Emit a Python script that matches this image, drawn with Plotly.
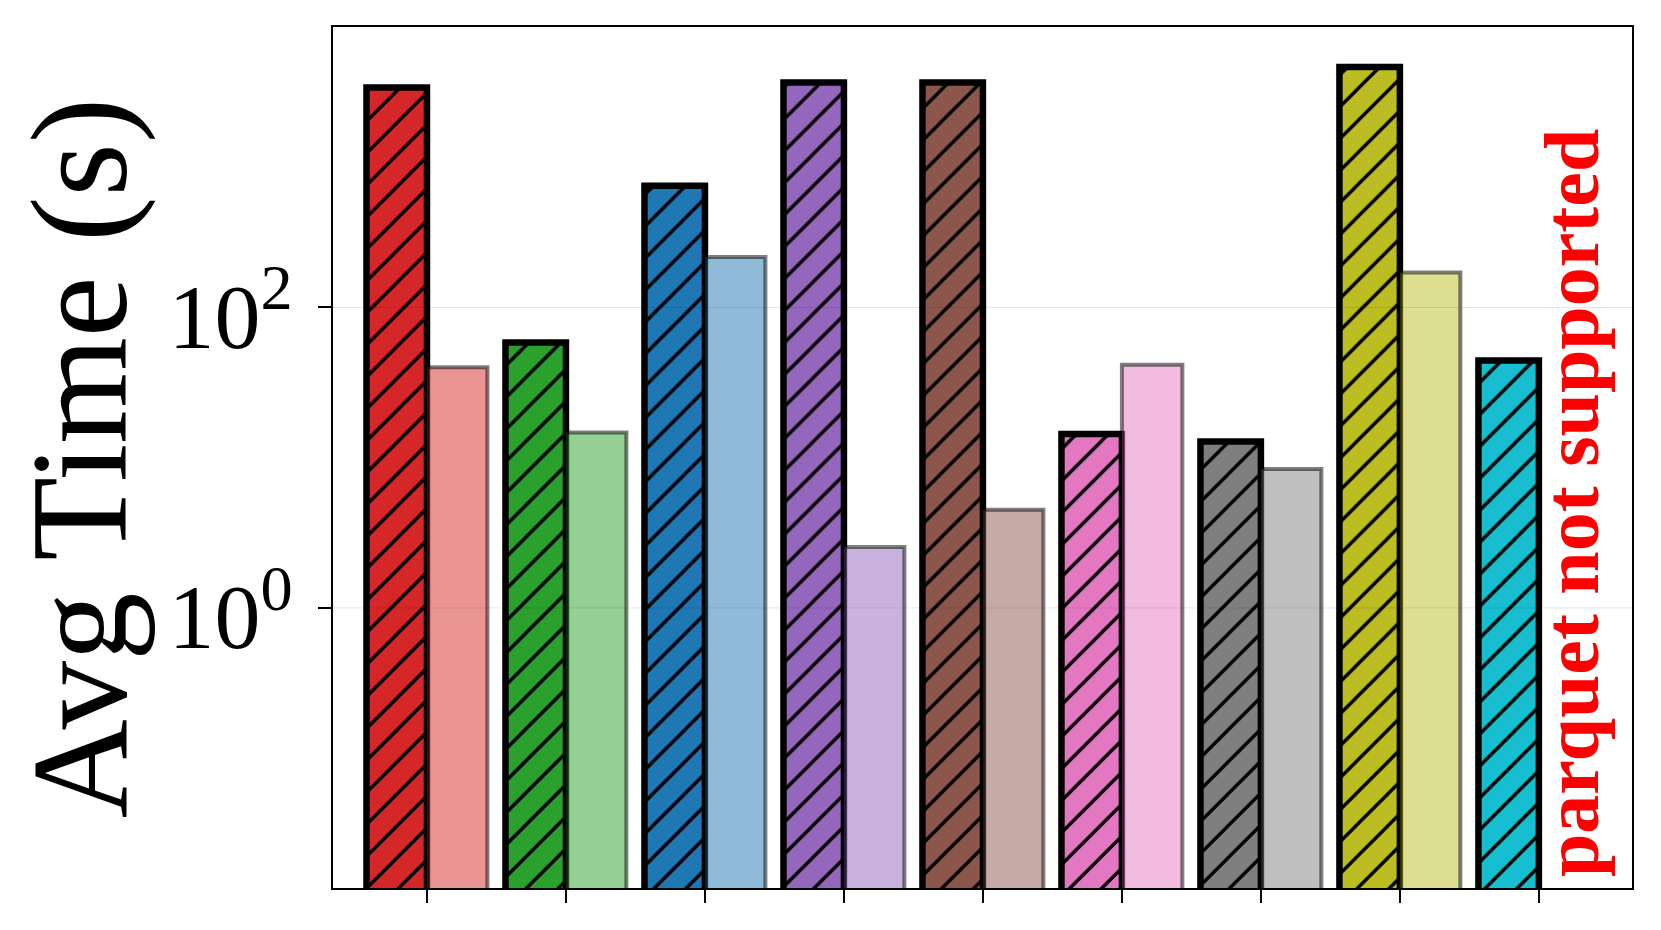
import plotly.graph_objects as go

# one group per system; hatched = csv run, light = parquet run
POSITIONS = [0, 1, 2, 3, 4, 5, 6, 7, 8]
CSV_TIMES = [2910, 58.4, 646, 3150, 3150, 14.4, 12.8, 3990, 44.4]
PARQUET_TIMES = [40, 14.7, 217, 2.55, 4.5, 41.5, 8.4, 171, None]
Y_TICKS = [1, 100]
Y_TICK_TEXT = ['10<sup>0</sup>', '10<sup>2</sup>']

COLORS = ['#d62728', '#2ca02c', '#1f77b4', '#9467bd', '#8c564b',
          '#e377c2', '#7f7f7f', '#bcbd22', '#17becf']


def fade(hex_color, alpha=0.5):
    r, g, b = (int(hex_color[i:i + 2], 16) for i in (1, 3, 5))
    return f'rgba({r},{g},{b},{alpha})'


FONT = 'Liberation Serif'
BAR_W = 0.435

fig = go.Figure()
fig.add_trace(go.Bar(
    x=POSITIONS, y=CSV_TIMES, width=BAR_W, offset=-BAR_W,
    marker=dict(
        color='black',
        line=dict(color='black', width=6.5),
        pattern=dict(shape='/', bgcolor=COLORS, fgcolor='black',
                     fgopacity=1, size=22.6, solidity=0.15),
    ),
    showlegend=False,
))
fig.add_trace(go.Bar(
    x=POSITIONS, y=PARQUET_TIMES, width=BAR_W, offset=0,
    marker=dict(color=[fade(c) for c in COLORS],
                line=dict(color='rgba(0,0,0,0.5)', width=4)),
    showlegend=False,
))

# faint grid drawn over the bars, like matplotlib
for v in Y_TICKS:
    fig.add_shape(type='line', xref='paper', x0=0, x1=1, yref='y', y0=v, y1=v,
                  line=dict(color='rgba(0,0,0,0.1)', width=1), layer='above')

fig.add_annotation(text='Avg Time (s)', xref='paper', yref='paper', x=-0.195, y=0.5,
                   textangle=-90, showarrow=False, xanchor='center', yanchor='middle',
                   font=dict(family=FONT, size=137, color='black'))
fig.add_annotation(text='<b>parquet not supported</b>', xref='paper', yref='paper',
                   x=0.953, y=0.447, textangle=-90, showarrow=False,
                   xanchor='center', yanchor='middle',
                   font=dict(family=FONT, size=78, color='#ff0000'))

# page body adds an 8px margin, so the figure is 8px smaller than the window
fig.update_layout(
    width=1653, height=922,
    barmode='overlay',
    paper_bgcolor='white',
    plot_bgcolor='white',
    margin=dict(l=325, r=29, t=19, b=42),
    font=dict(family=FONT, color='black'),
)
fig.update_xaxes(range=[-0.676, 8.67], tickvals=POSITIONS, showticklabels=False,
                 ticks='outside', ticklen=13, tickwidth=2, tickcolor='black',
                 showline=True, linecolor='black', linewidth=2, mirror=True,
                 showgrid=False, zeroline=False)
fig.update_yaxes(type='log', range=[-1.864, 3.867], tickvals=Y_TICKS, ticktext=Y_TICK_TEXT,
                 ticks='outside', ticklen=13, tickwidth=2, tickcolor='black',
                 tickfont=dict(family=FONT, size=92, color='black'),
                 ticklabelshift=8, ticklabelstandoff=7,
                 showline=True, linecolor='black', linewidth=2, mirror=True,
                 showgrid=False, zeroline=False)

fig.write_html('out.html')
